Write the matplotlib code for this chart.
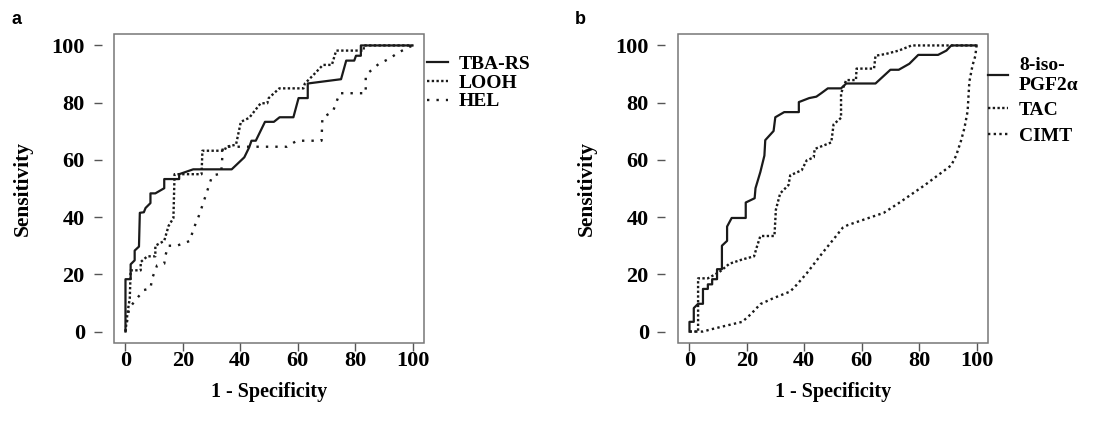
import matplotlib
matplotlib.use("Agg")
import matplotlib.pyplot as plt
from matplotlib.patches import Rectangle

# ROC curves (1 - specificity, sensitivity), in %
tba_x = [0, 0, 1.8, 1.8, 3.2, 3.2, 4.7, 5.0, 6.4, 7.0, 8.7, 8.7, 10.4, 13.5, 13.5, 18.7, 18.7,
         23.6, 37.0, 41.4, 43.1, 43.9, 45.4, 48.6, 51.7, 53.7, 58.5, 60.3, 63.5, 63.5, 75.1,
         76.9, 79.7, 80.3, 82.0, 82.0, 100]
tba_y = [0, 18.3, 18.3, 23.5, 24.9, 28.3, 29.7, 41.5, 41.7, 43.2, 44.9, 48.3, 48.3, 50.1, 53.3,
         53.3, 55.0, 56.7, 56.7, 60.9, 64.4, 66.7, 66.7, 73.3, 73.3, 74.9, 74.9, 81.6, 81.6,
         86.7, 88.2, 94.7, 94.7, 96.4, 96.4, 100, 100]

looh_x = [0, 0.7, 1.5, 1.8, 5.3, 5.3, 7.6, 10.4, 10.4, 13.5, 15.0, 16.7, 17.1, 26.5, 26.8, 34.5,
          35.1, 38.5, 40.2, 43.1, 47.1, 49.4, 49.9, 53.6, 62.0, 62.5, 65.4, 68.8, 71.9, 73.4,
          83.0, 83.0, 100]
looh_y = [0, 6.5, 11.7, 21.4, 21.4, 24.3, 26.3, 26.3, 30.0, 31.7, 36.9, 39.7, 55.0, 55.0, 63.2,
          63.2, 64.6, 65.3, 73.3, 74.7, 79.8, 79.8, 81.6, 85.0, 85.0, 86.7, 89.6, 93.2, 93.2,
          98.2, 98.2, 100, 100]

hel_x = [0, 1.3, 4.1, 6.4, 8.7, 9.3, 11.0, 13.5, 13.9, 15.0, 17.9, 22.5, 23.6, 25.3, 26.5, 28.2,
         29.9, 30.5, 33.3, 33.6, 33.9, 56.2, 59.7, 68.3, 68.6, 72.3, 74.0, 74.6, 83.7, 83.7,
         84.9, 88.3, 91.8, 95.2, 100]
hel_y = [0, 8.2, 11.7, 14.5, 15.1, 18.6, 23.1, 23.7, 26.6, 30.0, 30.0, 31.7, 35.7, 39.7, 43.2,
         48.3, 53.5, 54.6, 55.2, 58.6, 64.6, 64.6, 66.7, 66.7, 74.7, 77.0, 81.6, 83.3, 83.3,
         89.0, 90.7, 93.6, 95.3, 97.6, 100]

iso_x = [0, 0, 1.5, 1.5, 3.0, 4.7, 4.7, 6.4, 6.4, 7.9, 7.9, 9.6, 9.6, 11.3, 11.3, 13.1, 13.1,
         14.7, 19.6, 19.6, 22.7, 23.0, 24.7, 26.1, 26.4, 29.3, 29.9, 33.0, 38.1, 38.1, 41.7,
         44.2, 45.9, 48.2, 52.8, 54.6, 64.8, 70.0, 72.9, 76.6, 79.7, 86.6, 89.5, 91.2, 100]
iso_y = [0, 3.4, 3.4, 8.2, 9.7, 9.7, 14.9, 14.9, 16.5, 16.5, 18.3, 18.3, 21.8, 21.8, 30.0, 31.7,
         36.7, 39.7, 39.7, 45.1, 46.6, 50.1, 55.8, 61.5, 66.9, 70.1, 74.9, 76.7, 76.7, 80.2,
         81.6, 82.1, 83.3, 85.0, 85.0, 86.7, 86.7, 91.5, 91.5, 93.6, 96.7, 96.7, 98.2, 100, 100]

tac_x = [0, 3.0, 3.0, 6.4, 10.4, 13.9, 18.4, 22.5, 23.6, 24.7, 29.6, 30.1, 31.6, 34.5, 35.1,
         39.1, 40.8, 43.3, 43.6, 49.4, 50.2, 52.8, 52.8, 54.6, 58.0, 58.2, 64.3, 64.8, 68.3,
         72.9, 77.4, 100]
tac_y = [0, 0, 18.6, 18.6, 20.8, 23.7, 25.2, 26.3, 30.0, 33.4, 33.4, 42.6, 48.3, 51.2, 54.6,
         56.4, 59.8, 60.9, 63.8, 66.1, 72.4, 74.7, 83.3, 87.9, 87.9, 91.9, 91.9, 96.4, 97.0,
         98.2, 100, 100]

cimt_x = [0, 4.7, 7.6, 12.1, 18.4, 21.3, 24.7, 29.3, 35.1, 37.3, 40.8, 46.5, 51.1, 53.4, 55.1,
          67.7, 72.9, 82.0, 91.2, 92.9, 94.6, 95.8, 96.9, 97.5, 98.6, 99.6, 100]
cimt_y = [0, 0, 0.8, 1.9, 3.4, 6.0, 9.6, 11.7, 14.0, 16.3, 20.3, 27.7, 33.4, 36.3, 37.2, 41.5,
          44.9, 51.2, 58.1, 61.5, 66.7, 71.2, 77.0, 87.3, 93.0, 96.4, 100]

ticks = [0, 20, 40, 60, 80, 100]

serif = "Liberation Serif"
ink = "#1a1a1a"
dense = (0, (1, 1))
loose = (0, (1, 3))

fig = plt.figure(figsize=(10.93, 4.28), dpi=100)


def setup(ax):
    ax.set_xlim(-4, 104)
    ax.set_ylim(-4, 104)
    for s in ax.spines.values():
        s.set_visible(False)
    ax.spines["left"].set_position(("outward", 9))
    ax.add_patch(Rectangle((0, 0), 1, 1, transform=ax.transAxes, fill=False,
                           edgecolor="#777777", lw=1.1, clip_on=False))
    ax.set_xticks(ticks)
    ax.set_yticks(ticks)
    ax.tick_params(direction="out", length=6, width=1, color="#555555")
    ax.tick_params(axis="x", pad=0)
    ax.tick_params(axis="y", pad=6)
    for lab in ax.get_xticklabels() + ax.get_yticklabels():
        lab.set_fontfamily(serif)
        lab.set_fontweight("bold")
        lab.set_fontsize(16)
    ax.set_xlabel("1 - Specificity", family=serif, weight="bold", fontsize=14.5)
    ax.set_ylabel("Sensitivity", family=serif, weight="bold", fontsize=15.5)
    ax.xaxis.set_label_coords(0.5, -0.125)
    ax.yaxis.set_label_coords(-0.263, 0.5)


# panel a
ax1 = fig.add_axes([114 / 1093, 85 / 428, 310 / 1093, 309 / 428])
setup(ax1)
ax1.plot(tba_x, tba_y, color=ink, lw=1.6, label="TBA-RS")
ax1.plot(looh_x, looh_y, color=ink, lw=1.7, ls=dense, label="LOOH")
ax1.plot(hel_x, hel_y, color=ink, lw=1.7, ls=loose, label="HEL")
ax1.legend(loc="upper left", bbox_to_anchor=(1.01, 0.93), frameon=False, borderpad=0,
           borderaxespad=0, handlelength=1.05, handletextpad=0.55, labelspacing=0.05,
           prop={"family": serif, "weight": "bold", "size": 14})

# panel b
ax2 = fig.add_axes([678 / 1093, 85 / 428, 310 / 1093, 309 / 428])
setup(ax2)
ax2.plot(iso_x, iso_y, color=ink, lw=1.6, label="8-iso-\nPGF2α")
ax2.plot(tac_x, tac_y, color=ink, lw=1.7, ls=dense, label="TAC")
ax2.plot(cimt_x, cimt_y, color=ink, lw=1.7, ls=(0, (1, 1.4)), label="CIMT")
ax2.legend(loc="upper left", bbox_to_anchor=(1.0, 0.925), frameon=False, borderpad=0,
           borderaxespad=0, handlelength=1.05, handletextpad=0.55, labelspacing=0.4,
           prop={"family": serif, "weight": "bold", "size": 14})

fig.text(12 / 1093, 1 - 20 / 428, "a", family="Liberation Sans", weight="bold",
         fontsize=13, va="center", ha="left")
fig.text(575 / 1093, 1 - 20 / 428, "b", family="Liberation Sans", weight="bold",
         fontsize=13, va="center", ha="left")

fig.savefig("out.png", dpi=100)
